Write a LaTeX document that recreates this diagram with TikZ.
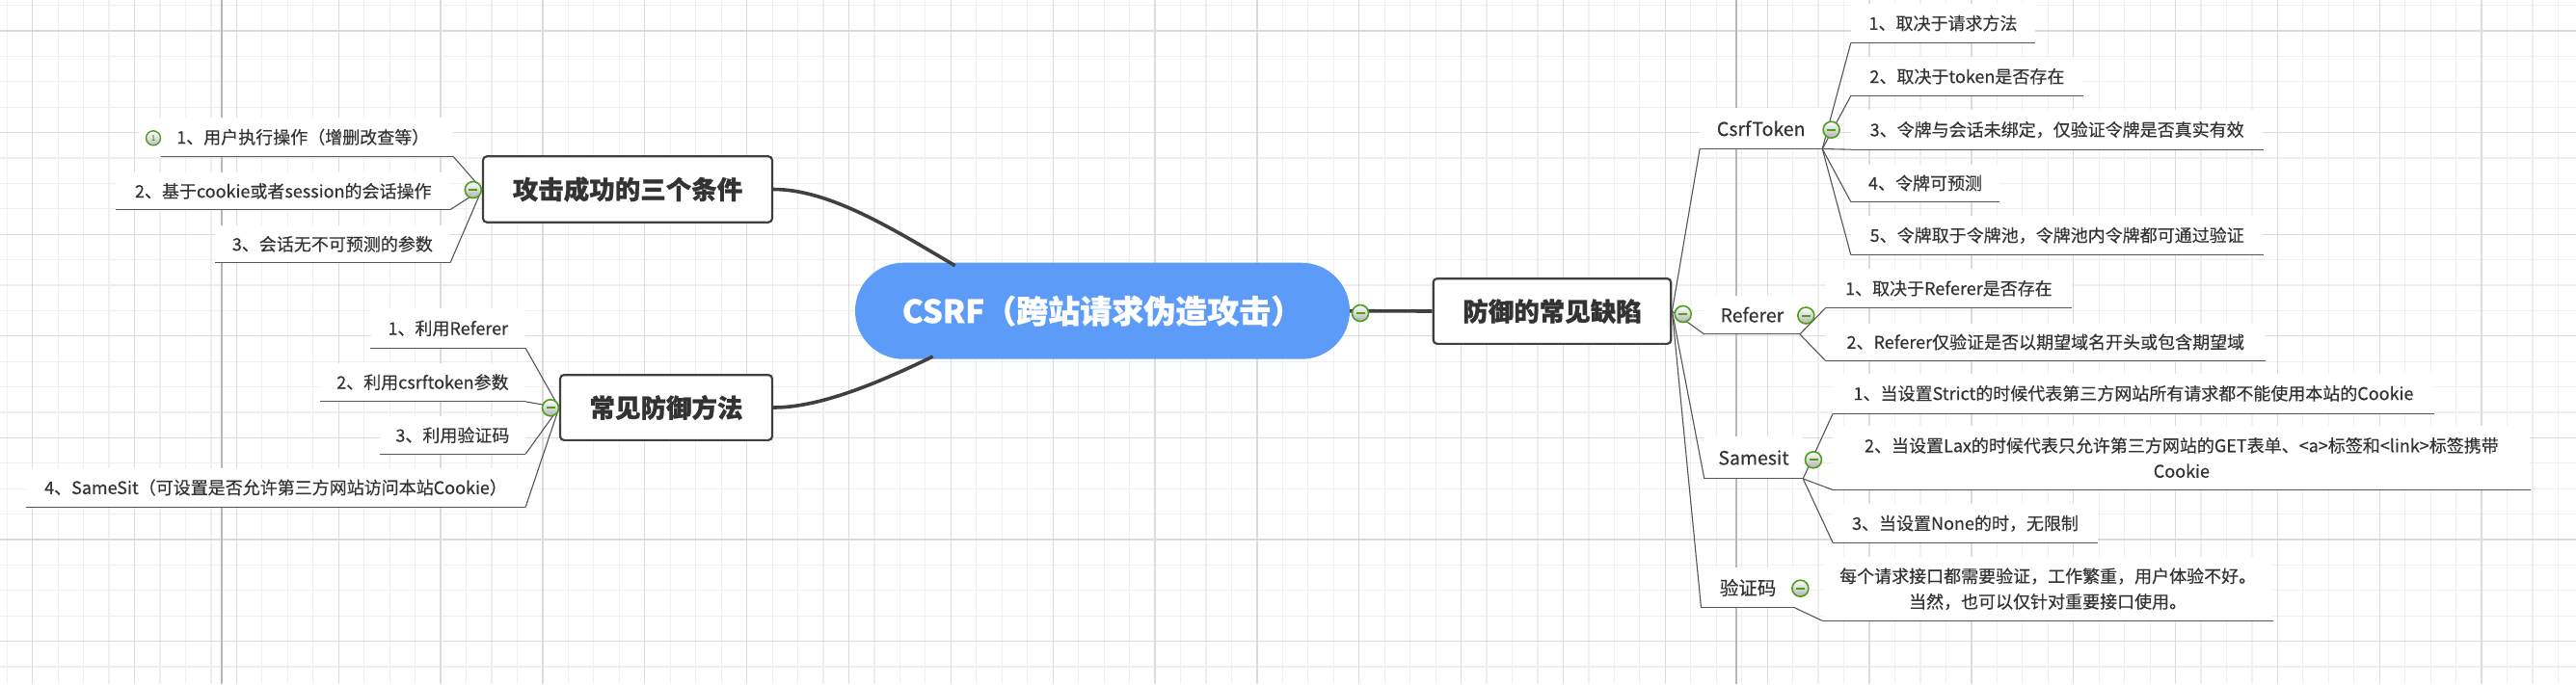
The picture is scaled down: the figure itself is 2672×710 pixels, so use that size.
\documentclass[tikz,border=0pt]{standalone}
\usepackage{fontspec}
\setmainfont{Noto Sans CJK SC}[BoldFeatures={FakeBold=0.9}]
\newfontfamily\itemfont{Noto Sans CJK SC}[FakeBold=0.3]
\usetikzlibrary{calc}
\definecolor{gridminor}{HTML}{EFEFEF}
\definecolor{gridmajor}{HTML}{DCDCDC}
\definecolor{pageline}{HTML}{B8B8B8}
\definecolor{txt}{HTML}{333333}
\definecolor{edgec}{HTML}{404040}
\definecolor{linec}{HTML}{555555}
\definecolor{cblue}{HTML}{5C9CF8}
\definecolor{mgreen}{HTML}{4E9F1B}
\newcommand\sconn[2]{\draw[conn] (#1) .. controls ($(#1)!.5!(#2)$ |- #1) and ($(#1)!.5!(#2)$ |- #2) .. (#2);}
\begin{document}
\begin{tikzpicture}[x=1pt,y=-1pt,
  central/.style={fill=cblue, rounded corners=50pt, minimum width=513pt, minimum height=100pt, inner sep=0pt, text=white, font=\bfseries\fontsize{33}{36}\selectfont},
  mainbox/.style={fill=white, draw=edgec, line width=2.2pt, rounded corners=4pt, inner sep=0pt, text=txt, font=\bfseries\fontsize{26.5}{30}\selectfont},
  item/.style={fill=white, inner sep=0pt, text=txt, font=\itemfont\fontsize{18}{26.5}\selectfont, align=center},
  sub/.style={fill=white, inner sep=0pt, text=txt, font=\itemfont\fontsize{19.5}{24}\selectfont, align=center},
  uline/.style={draw=linec, line width=1.1pt},
  conn/.style={draw=linec, line width=1.1pt},
  bigconn/.style={draw=edgec, line width=3.6pt},
  marker/.style={circle, draw=mgreen, line width=1.6pt, top color=white, bottom color=black!30, minimum size=17pt, inner sep=0pt,
    path picture={\draw[mgreen, line width=2pt] ([xshift=-4.5pt]path picture bounding box.center) -- ([xshift=4.5pt]path picture bounding box.center);}},
  prio/.style={circle, draw=mgreen, line width=1.4pt, top color=white, bottom color=black!25, minimum size=15pt, inner sep=0pt, text=mgreen!70!black, font=\fontsize{8}{8}\selectfont},
  gminor/.style={draw=gridminor, line width=1.2pt},
  gmajor/.style={draw=gridmajor, line width=1.3pt},
  gpage/.style={draw=pageline, line width=1.6pt}
]
\useasboundingbox (0,0) rectangle (2672,710);
\fill[white] (0,0) rectangle (2672,710);
% grid
\foreach \k in {-2,...,101} {\draw[gminor] ({33.7+26.4625*\k},0) -- ++(0,710);}
\foreach \k in {-2,...,27} {\draw[gminor] (0,{32+26.4*\k}) -- ++(2672,0);}
\foreach \k in {-1,...,25} {\draw[gmajor] ({33.7+105.85*\k},0) -- ++(0,710);}
\foreach \k in {-1,...,7} {\draw[gmajor] (0,{32+105.6*\k}) -- ++(2672,0);}
\draw[gpage] (229.7,0) -- (229.7,710);
\draw[gpage] (1801,0) -- (1801,710);

% main topics
\node[central] (cen) at (1143.5,322.7) {CSRF（跨站请求伪造攻击）};
\node[mainbox, minimum width=300pt, minimum height=68.4pt] (A) at (651,196.5) {攻击成功的三个条件};
\node[mainbox, minimum width=220pt, minimum height=67.7pt] (B) at (691,423) {常见防御方法};
\node[mainbox, minimum width=246.6pt, minimum height=67.7pt] (D) at (1610,323) {防御的常见缺陷};

% left items A
\node[item, minimum width=326.5pt, minimum height=40pt] (A1) at (306.75,142.3) {\hspace*{15pt}1、用户执行操作（增删改查等）};
\node[item, minimum width=346.5pt, minimum height=38pt] (A2) at (293.75,198.3) {2、基于cookie或者session的会话操作};
\node[item, minimum width=244.3pt, minimum height=38pt] (A3) at (344.85,253.3) {3、会话无不可预测的参数};
% left items B
\node[item, minimum width=160.4pt, minimum height=41pt] (B1) at (464.8,340.8) {1、利用Referer};
\node[item, minimum width=213.2pt, minimum height=40pt] (B2) at (438.4,396.7) {2、利用csrftoken参数};
\node[item, minimum width=151.2pt, minimum height=38.6pt] (B3) at (469.4,451.7) {3、利用验证码};
\node[item, minimum width=518pt, minimum height=40pt] (B4) at (286,506) {4、SameSit（可设置是否允许第三方网站访问本站Cookie）};

% right sub topics
\node[sub, minimum width=126.7pt, minimum height=42pt] (C1) at (1826.7,133.3) {CsrfToken};
\node[sub, minimum width=98.7pt, minimum height=40pt] (C2) at (1817.4,326.7) {Referer};
\node[sub, minimum width=102pt, minimum height=43.4pt] (C3) at (1819,475) {Samesit};
\node[sub, minimum width=96.8pt, minimum height=41.4pt] (C4) at (1813.1,610) {验证码};

% CsrfToken items
\node[item, minimum width=191pt, minimum height=40.6pt] (D1) at (2015.5,24) {1、取决于请求方法};
\node[item, minimum width=240.8pt, minimum height=40pt] (D2) at (2040.4,79.3) {2、取决于token是否存在};
\node[item, minimum width=427.4pt, minimum height=40.6pt] (D3) at (2133.7,134.7) {3、令牌与会话未绑定，仅验证令牌是否真实有效};
\node[item, minimum width=154pt, minimum height=38.6pt] (D4) at (1997,190) {4、令牌可预测};
\node[item, minimum width=427.4pt, minimum height=40pt] (D5) at (2133.7,244.3) {5、令牌取于令牌池，令牌池内令牌都可通过验证};
% Referer items
\node[item, minimum width=255.2pt, minimum height=40pt] (E1) at (2021.4,299.3) {1、取决于Referer是否存在};
\node[item, minimum width=456pt, minimum height=38.6pt] (E2) at (2121.8,355) {2、Referer仅验证是否以期望域名开头或包含期望域};
% Samesit items
\node[item, minimum width=623.2pt, minimum height=41.4pt] (F1) at (2213,408.3) {1、当设置Strict的时候代表第三方网站所有请求都不能使用本站的Cookie};
\node[item, minimum width=723pt, minimum height=66.6pt] (F2) at (2262.9,475) {2、当设置Lax的时候代表只允许第三方网站的GET表单、<a>标签和<link>标签携带\\Cookie};
\node[item, minimum width=274.1pt, minimum height=40pt] (F3) at (2038.5,543.3) {3、当设置None的时，无限制};
% captcha item
\node[item, minimum width=466.6pt, minimum height=66pt] (G1) at (2124.1,611.3) {每个请求接口都需要验证，工作繁重，用户体验不好。\\当然，也可以仅针对重要接口使用。};

% thick connectors
\coordinate (cenA) at (990.6,275.7);
\coordinate (cenB) at (967.7,370);
\draw[bigconn] (A.east) .. controls (860,196.5) and (925,237) .. (cenA);
\draw[bigconn] (B.east) .. controls (850,423) and (910,398) .. (cenB);
\draw[bigconn] (cen.east) -- (D.west);

% thin connectors
\sconn{A.west}{A1.south east}
\sconn{A.west}{A2.south east}
\sconn{A.west}{A3.south east}
\sconn{B.west}{B1.south east}
\sconn{B.west}{B2.south east}
\sconn{B.west}{B3.south east}
\sconn{B.west}{B4.south east}
\sconn{D.east}{C1.south west}
\sconn{D.east}{C2.south west}
\sconn{D.east}{C3.south west}
\sconn{D.east}{C4.south west}
\sconn{C1.south east}{D1.south west}
\sconn{C1.south east}{D2.south west}
\sconn{C1.south east}{D3.south west}
\sconn{C1.south east}{D4.south west}
\sconn{C1.south east}{D5.south west}
\sconn{C2.south east}{E1.south west}
\sconn{C2.south east}{E2.south west}
\sconn{C3.south east}{F1.south west}
\sconn{C3.south east}{F2.south west}
\sconn{C3.south east}{F3.south west}
\sconn{C4.south east}{G1.south west}

% underlines
\draw[uline] ([xshift=24pt]A1.south west) -- (A1.south east);
\foreach \n in {A2,A3,B1,B2,B3,B4,C1,C2,C3,C4,D1,D2,D3,D4,D5,E1,E2,F1,F2,F3,G1}
  {\draw[uline] (\n.south west) -- (\n.south east);}

% markers
\node[prio] (p1) at (159,143.3) {1};
\node[marker] (mcen) at (1411,325) {};
\node[marker] (mA) at (490.8,197) {};
\node[marker] (mB) at (571,423.3) {};
\node[marker] (mD) at (1745.7,326) {};
\node[marker] (mC1) at (1899.6,134.7) {};
\node[marker] (mC2) at (1873.3,327.5) {};
\node[marker] (mC3) at (1881,477.3) {};
\node[marker] (mC4) at (1867.4,610.7) {};
\end{tikzpicture}
\end{document}
